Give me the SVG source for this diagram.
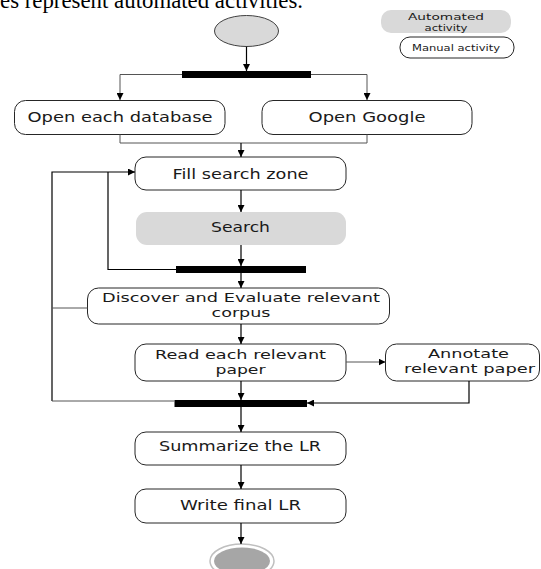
<svg xmlns="http://www.w3.org/2000/svg" width="541" height="569" viewBox="0 0 541 569">
  <style>
    .act { fill: #ffffff; stroke: #262626; stroke-width: 1; }
    .auto { fill: #d9d9d9; stroke: none; }
    .bar { fill: #000000; }
    .lbl { font-family: "DejaVu Sans", "Open Sans", sans-serif; font-size: 13.5px; fill: #1a1a1a; text-anchor: middle; }
    .lbl2 { font-family: "DejaVu Sans", "Open Sans", sans-serif; font-size: 12.5px; fill: #1a1a1a; text-anchor: middle; }
    .leg { font-family: "DejaVu Sans", "Open Sans", sans-serif; font-size: 9.5px; fill: #1a1a1a; text-anchor: middle; }
    .wire { fill: none; stroke: #000000; stroke-width: 1.2; }
    .wire-gray { fill: none; stroke: #555555; stroke-width: 1; }
  </style>
  <defs>
    <marker id="arrow" viewBox="0 0 10 10" refX="10" refY="5" markerWidth="7" markerHeight="7" markerUnits="userSpaceOnUse" orient="auto">
      <path d="M0,0 L10,5 L0,10 Z" fill="#000000"/>
    </marker>
  </defs>

  <rect width="541" height="569" fill="#ffffff"/>

  <!-- caption line above the chart -->
  <text x="0" y="8" font-family="Liberation Serif, serif" font-size="23" fill="#000000" textLength="303" lengthAdjust="spacingAndGlyphs">es represent automated activities.</text>

  <!-- legend -->
  <g id="legend-automated">
    <rect class="auto" x="381" y="10" width="130" height="23" rx="10"/>
    <text class="leg" x="446" y="19.5" textLength="76" lengthAdjust="spacingAndGlyphs">Automated</text>
    <text class="leg" x="446" y="30.5" textLength="43" lengthAdjust="spacingAndGlyphs">activity</text>
  </g>
  <g id="legend-manual">
    <rect class="act" x="400" y="37" width="114" height="21" rx="10"/>
    <text class="leg" x="456" y="51" textLength="88" lengthAdjust="spacingAndGlyphs">Manual activity</text>
  </g>

  <!-- start node -->
  <g id="start">
    <ellipse cx="246.5" cy="31" rx="32" ry="15.5" fill="#d9d9d9" stroke="#404040" stroke-width="1"/>
  </g>

  <!-- synchronisation bars -->
  <g id="fork-1"><rect class="bar" x="182" y="71" width="129" height="7"/></g>
  <g id="join-search"><rect class="bar" x="176" y="266" width="130" height="7"/></g>
  <g id="join-read"><rect class="bar" x="174.5" y="400" width="132.5" height="7"/></g>

  <!-- activities -->
  <g id="open-db">
    <rect class="act" x="14.5" y="100.5" width="210.5" height="34" rx="11"/>
    <text class="lbl" x="120" y="122" textLength="185" lengthAdjust="spacingAndGlyphs">Open each database</text>
  </g>
  <g id="open-google">
    <rect class="act" x="262" y="100.5" width="210" height="34" rx="11"/>
    <text class="lbl" x="367" y="122" textLength="117" lengthAdjust="spacingAndGlyphs">Open Google</text>
  </g>
  <g id="fill-search">
    <rect class="act" x="135" y="157" width="211" height="33" rx="11"/>
    <text class="lbl" x="240.5" y="179" textLength="136" lengthAdjust="spacingAndGlyphs">Fill search zone</text>
  </g>
  <g id="search">
    <rect class="auto" x="136" y="212" width="210" height="33" rx="11"/>
    <text class="lbl" x="240.5" y="232" textLength="59" lengthAdjust="spacingAndGlyphs">Search</text>
  </g>
  <g id="discover">
    <rect class="act" x="87.5" y="288" width="302" height="36" rx="11"/>
    <text class="lbl2" x="241" y="301.5" textLength="278" lengthAdjust="spacingAndGlyphs">Discover and Evaluate relevant</text>
    <text class="lbl2" x="241" y="316.5" textLength="59" lengthAdjust="spacingAndGlyphs">corpus</text>
  </g>
  <g id="read">
    <rect class="act" x="135" y="344" width="211" height="37" rx="11"/>
    <text class="lbl2" x="240.5" y="358.5" textLength="171" lengthAdjust="spacingAndGlyphs">Read each relevant</text>
    <text class="lbl2" x="240.5" y="373.5" textLength="50" lengthAdjust="spacingAndGlyphs">paper</text>
  </g>
  <g id="annotate">
    <rect class="act" x="385.5" y="344" width="154" height="37" rx="11"/>
    <text class="lbl2" x="468.5" y="358" textLength="81" lengthAdjust="spacingAndGlyphs">Annotate</text>
    <text class="lbl2" x="469.5" y="373" textLength="131" lengthAdjust="spacingAndGlyphs">relevant paper</text>
  </g>
  <g id="summarize">
    <rect class="act" x="135" y="432" width="211" height="33" rx="11"/>
    <text class="lbl" x="240" y="451" textLength="162" lengthAdjust="spacingAndGlyphs">Summarize the LR</text>
  </g>
  <g id="write">
    <rect class="act" x="135" y="489" width="211" height="34" rx="11"/>
    <text class="lbl" x="240.5" y="510" textLength="121" lengthAdjust="spacingAndGlyphs">Write final LR</text>
  </g>

  <!-- end node -->
  <g id="end">
    <ellipse cx="242" cy="561" rx="32" ry="17" fill="#ffffff" stroke="#bfbfbf" stroke-width="1.5"/>
    <ellipse cx="242" cy="561" rx="28" ry="13.5" fill="#a6a6a6"/>
  </g>

  <!-- connectors -->
  <g id="connectors">
    <path class="wire" d="M246.5,46.5 V71" marker-end="url(#arrow)"/>
    <path class="wire-gray" d="M182,74.5 H120 V100" marker-end="url(#arrow)"/>
    <path class="wire-gray" d="M311,74.5 H367 V100" marker-end="url(#arrow)"/>
    <path class="wire-gray" d="M120,134.5 V143 H367 V134.5"/>
    <path class="wire" d="M241,143 V157" marker-end="url(#arrow)"/>
    <path class="wire" d="M241,190 V212" marker-end="url(#arrow)"/>
    <path class="wire" d="M241,245 V266" marker-end="url(#arrow)"/>
    <path class="wire" d="M176,269.5 H108 V172"/>
    <path class="wire" d="M52,401 V172 H135" marker-end="url(#arrow)"/>
    <path class="wire-gray" d="M87.5,308 H52"/>
    <path class="wire" d="M241,273 V288" marker-end="url(#arrow)"/>
    <path class="wire" d="M241,324 V344" marker-end="url(#arrow)"/>
    <path class="wire-gray" d="M346,362 H385.5" marker-end="url(#arrow)"/>
    <path class="wire" d="M241,381 V400" marker-end="url(#arrow)"/>
    <path class="wire-gray" d="M52,401 H174.5"/>
    <path class="wire" d="M469,381 V403 H307" marker-end="url(#arrow)"/>
    <path class="wire" d="M241,407 V432" marker-end="url(#arrow)"/>
    <path class="wire" d="M241,465 V489" marker-end="url(#arrow)"/>
    <path class="wire" d="M241,523 V544" marker-end="url(#arrow)"/>
  </g>
</svg>
